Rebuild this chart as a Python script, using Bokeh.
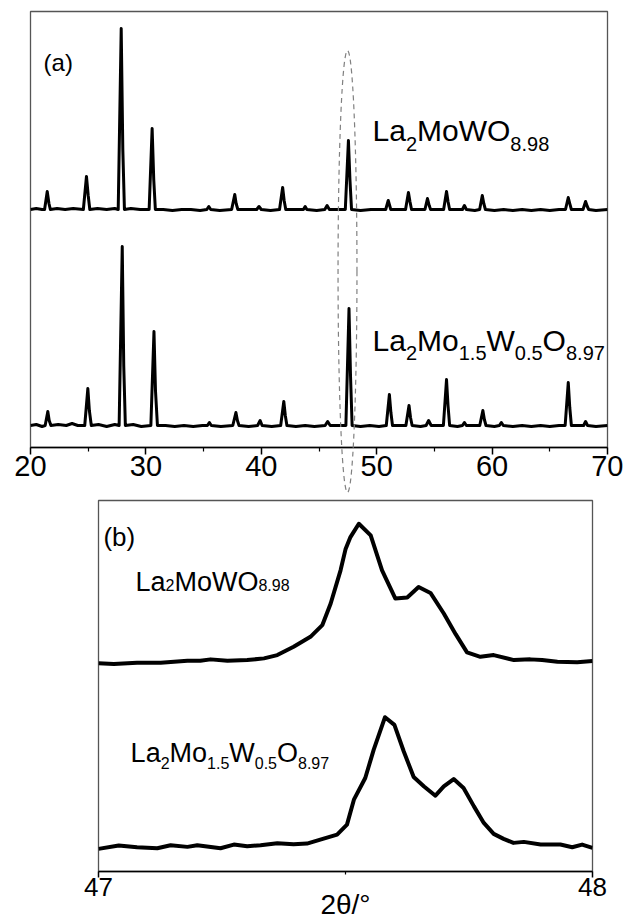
from bokeh.plotting import figure
from bokeh.models import Range1d, FixedTicker, Label
from bokeh.embed import file_html
from bokeh.resources import INLINE

FONT = "Liberation Sans"

# ---------------- data ----------------
# Panel (a): full patterns, (2theta in degrees, intensity above baseline, a.u.)
A_TOP = [  # La2MoWO8.98
    (20.0, 0), (20.5, 1), (21.0, 0), (21.22, 0), (21.45, 18), (21.6, 6), (21.72, 0),
    (22.3, 1), (23.0, 0), (23.7, 1), (24.58, 0), (24.85, 33), (25.0, 14), (25.14, 0),
    (25.8, 1), (26.6, 0), (27.3, 1), (27.6, 0), (27.86, 181), (28.0, 60), (28.14, 0),
    (28.7, 1), (29.5, 0), (30.28, 0), (30.54, 81), (30.68, 30), (30.82, 0), (31.5, 0),
    (32.3, -1), (33.1, 0), (33.9, 0), (34.7, -1), (35.28, 0), (35.45, 3), (35.62, 0),
    (36.4, -1), (37.43, 0), (37.7, 15), (37.82, 6), (37.97, 0), (38.8, 0), (39.6, 0),
    (39.8, 3), (40.0, 0), (40.8, -1), (41.58, 0), (41.85, 22), (41.98, 9), (42.12, 0),
    (42.9, 0), (43.65, 0), (43.8, 3), (43.95, 0), (44.8, -1), (45.5, 0), (45.7, 4),
    (45.9, 0), (46.6, 0), (47.28, 0), (47.55, 69), (47.68, 30), (47.82, 0), (48.6, -1),
    (49.5, 0), (50.78, 0), (51.0, 9), (51.22, 0), (52.0, 0), (52.5, 0), (52.75, 17),
    (52.88, 8), (53.02, 0), (53.7, 0), (54.18, 0), (54.4, 11), (54.55, 4), (54.67, 0),
    (55.3, 0), (55.8, 0), (56.05, 18), (56.18, 8), (56.32, 0), (57.0, 0), (57.43, 0),
    (57.6, 4), (57.77, 0), (58.5, -1), (58.92, 0), (59.15, 14), (59.28, 6), (59.42, 0),
    (60.2, -1), (61.0, 0), (61.8, -1), (62.6, 0), (63.4, -1), (64.2, 0), (65.0, -1),
    (65.8, 0), (66.36, 0), (66.6, 12), (66.73, 6), (66.87, 0), (67.6, 0), (67.88, 0),
    (68.1, 8), (68.25, 3), (68.37, 0), (69.0, -1), (70.0, 0),
]
A_BOT = [  # La2Mo1.5W0.5O8.97
    (20.0, 0), (20.5, 1), (21.0, -1), (21.27, 0), (21.5, 14), (21.62, 5), (21.77, 0),
    (22.4, 1), (23.1, 0), (23.6, 2), (24.1, 0), (24.7, 0), (24.97, 37), (25.1, 15),
    (25.27, 0), (25.9, 1), (26.6, -1), (27.3, 1), (27.68, 0), (27.95, 179), (28.08, 60),
    (28.22, 0), (28.9, 1), (29.6, -1), (30.43, 0), (30.7, 94), (30.83, 35), (31.0, 0),
    (31.7, 0), (32.5, -1), (33.3, 0), (34.1, -1), (34.9, 0), (35.33, 0), (35.5, 3),
    (35.67, 0), (36.5, -1), (37.53, 0), (37.8, 13), (37.93, 5), (38.07, 0), (38.9, -1),
    (39.68, 0), (39.9, 5), (40.07, 0), (40.9, -1), (41.68, 0), (41.95, 24), (42.08, 10),
    (42.22, 0), (43.0, -1), (43.8, 0), (44.6, -1), (45.53, 0), (45.75, 4), (45.97, 0),
    (46.7, 0), (47.33, 0), (47.6, 117), (47.73, 50), (47.87, 0), (48.6, -1), (49.4, 0),
    (50.2, -1), (50.83, 0), (51.1, 31), (51.23, 13), (51.37, 0), (52.1, 0), (52.53, 0),
    (52.8, 20), (52.93, 8), (53.07, 0), (53.8, -1), (54.28, 0), (54.5, 5), (54.72, 0),
    (55.3, 0), (55.78, 0), (56.05, 46), (56.18, 20), (56.32, 0), (57.0, -1), (57.43, 0),
    (57.6, 3), (57.77, 0), (58.5, 0), (58.93, 0), (59.2, 15), (59.33, 6), (59.47, 0),
    (60.2, -1), (60.63, 0), (60.8, 3), (60.97, 0), (61.8, -1), (62.6, 0), (63.4, -1),
    (64.2, 0), (65.0, -1), (65.8, 0), (66.33, 0), (66.6, 43), (66.73, 18), (66.87, 0),
    (67.5, 0), (67.93, 0), (68.1, 4), (68.27, 0), (69.0, -1), (70.0, 0),
]
A_OFFSETS = (238, 22)          # vertical stacking of the two patterns
A_TICKS = [20, 30, 40, 50, 60, 70]
A_MINOR = [25, 35, 45, 55, 65]

# Panel (b): zoom 47-48 deg
B_TOP = [  # La2MoWO8.98
    (47.000, 0.7), (47.031, 0.0), (47.078, 1.3), (47.126, 1.3), (47.180, 3.3),
    (47.206, 3.3), (47.227, 4.7), (47.261, 3.3), (47.301, 4.0), (47.335, 5.7),
    (47.362, 9.0), (47.395, 17.3), (47.429, 27.3), (47.453, 39.0), (47.470, 60.7),
    (47.490, 94.0), (47.500, 115.0), (47.510, 127.3), (47.527, 140.7), (47.551, 129.0),
    (47.574, 94.0), (47.601, 65.7), (47.625, 66.7), (47.648, 77.3), (47.672, 71.3),
    (47.699, 50.7), (47.723, 30.0), (47.746, 11.7), (47.773, 7.3), (47.800, 9.0),
    (47.841, 4.0), (47.874, 4.7), (47.898, 4.0), (47.929, 2.3), (47.969, 1.7),
    (48.000, 3.0),
]
B_BOT = [  # La2Mo1.5W0.5O8.97
    (47.000, 0.7), (47.041, 4.0), (47.078, 2.3), (47.119, 1.3), (47.146, 4.3),
    (47.180, 2.7), (47.200, 4.3), (47.247, 1.3), (47.274, 5.0), (47.301, 3.3),
    (47.328, 4.3), (47.362, 6.3), (47.395, 5.3), (47.422, 6.0), (47.449, 10.0),
    (47.483, 15.0), (47.503, 25.0), (47.517, 50.0), (47.540, 71.7), (47.557, 100.0),
    (47.580, 132.7), (47.599, 125.0), (47.618, 98.3), (47.638, 72.7), (47.659, 63.3),
    (47.682, 54.0), (47.699, 63.3), (47.719, 70.7), (47.739, 61.7), (47.760, 43.3),
    (47.780, 26.7), (47.800, 15.7), (47.820, 10.7), (47.840, 6.7), (47.861, 7.7),
    (47.895, 5.0), (47.935, 5.0), (47.959, 2.3), (47.979, 5.0), (48.000, 1.7),
]
B_OFFSETS = (208, 22)
B_TICKS = [47, 48]
B_MINOR = [47.5]

LABEL_TOP = [("La", False), ("2", True), ("MoWO", False), ("8.98", True)]
LABEL_BOT = [("La", False), ("2", True), ("Mo", False), ("1.5", True),
             ("W", False), ("0.5", True), ("O", False), ("8.97", True)]
XLABEL = "2θ/°"

# ---------------- helpers ----------------
ADV = {'L': 0.556, 'a': 0.556, 'M': 0.833, 'o': 0.556, 'W': 0.944, 'O': 0.778, '.': 0.278}
for d in "0123456789":
    ADV[d] = 0.556


def formula(p, x, y, pieces, size, sub_size, sub_drop):
    off = 0.0
    for txt, sub in pieces:
        fs = sub_size if sub else size
        p.add_layout(Label(x=x, y=y, x_offset=off, y_offset=-sub_drop if sub else 0,
                           text=txt, text_font=FONT, text_font_size=f"{fs}px",
                           text_color="black", text_baseline="alphabetic",
                           text_align="left"))
        off += sum(ADV[c] for c in txt) * fs


def style(p, ticks, minor, label_size, tick_out, minor_out, standoff):
    p.xgrid.visible = False
    p.ygrid.visible = False
    p.yaxis.visible = False
    ax = p.xaxis[0]
    ax.ticker = FixedTicker(ticks=ticks, minor_ticks=minor)
    ax.major_tick_in = 0
    ax.major_tick_out = tick_out
    ax.minor_tick_in = 0
    ax.minor_tick_out = minor_out
    ax.axis_line_color = "black"
    ax.axis_line_width = 1.5
    ax.major_tick_line_color = "black"
    ax.major_tick_line_width = 1.5
    ax.minor_tick_line_color = "black"
    ax.minor_tick_line_width = 1.2
    ax.major_label_text_font = FONT
    ax.major_label_text_font_size = label_size
    ax.major_label_text_color = "black"
    ax.major_label_standoff = standoff
    p.outline_line_color = "#555555"
    p.outline_line_width = 1.3
    p.background_fill_color = "white"
    p.border_fill_color = "white"


# ---------------- panel (a) ----------------
pa = figure(width=623, height=494, title=None, x_range=Range1d(20, 70), y_range=Range1d(0, 436),
            output_backend="svg", toolbar_location=None,
            min_border_left=30, min_border_right=16, min_border_top=11, min_border_bottom=47)
style(pa, A_TICKS, A_MINOR, "29px", 7, 4, 1)

for series, off in zip((A_TOP, A_BOT), A_OFFSETS):
    xs = [pt[0] for pt in series]
    ys = [pt[1] + off for pt in series]
    pa.line(xs, ys, line_color="black", line_width=3, line_join="round")

pa.ellipse(x=[47.47], y=[176], width=1.64, height=442, fill_alpha=0,
           line_color="#808080", line_width=1.2, line_dash="5 4", level="overlay")

pa.add_layout(Label(x=21.13, y=385, text="(a)", text_font=FONT, text_font_size="24px",
                    text_color="black", text_baseline="alphabetic"))
formula(pa, 49.64, 317, LABEL_TOP, 30, 20, 13)
formula(pa, 49.64, 107, LABEL_BOT, 30, 20, 12)

# ---------------- panel (b) ----------------
pb = figure(width=623, height=428, title=None, x_range=Range1d(47, 48), y_range=Range1d(0, 372),
            output_backend="svg", toolbar_location=None,
            min_border_left=98, min_border_right=31, min_border_top=6, min_border_bottom=50)
style(pb, B_TICKS, B_MINOR, "26px", 6, 3, 0)
pb.xaxis.axis_label = XLABEL
pb.xaxis.axis_label_text_font = FONT
pb.xaxis.axis_label_text_font_size = "28px"
pb.xaxis.axis_label_text_font_style = "normal"
pb.xaxis.axis_label_text_color = "black"
pb.xaxis.axis_label_standoff = -10

for series, off in zip((B_TOP, B_BOT), B_OFFSETS):
    xs = [pt[0] for pt in series]
    ys = [pt[1] + off for pt in series]
    pb.line(xs, ys, line_color="black", line_width=4, line_join="round")

pb.add_layout(Label(x=47.010, y=335.5, text="(b)", text_font=FONT, text_font_size="26px",
                    text_color="black", text_baseline="alphabetic"))
formula(pb, 47.075, 290, LABEL_TOP, 27, 16, 3)
formula(pb, 47.065, 119, LABEL_BOT, 27, 16, 10)

open("out.html", "w").write(file_html([pa, pb], INLINE))
